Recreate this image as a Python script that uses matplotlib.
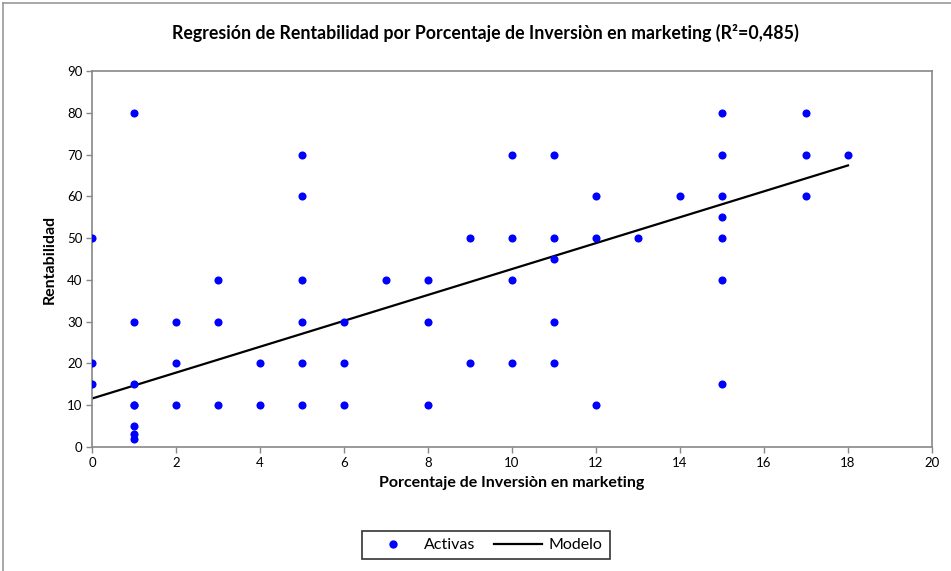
import numpy as np
import matplotlib
matplotlib.use('Agg')
from matplotlib import pyplot as plt
from matplotlib.lines import Line2D

plt.rcParams['font.family'] = ['Lato', 'DejaVu Sans']

# porcentaje de inversion en marketing y rentabilidad de cada empresa activa
inversion = [0, 0, 0,
             1, 1, 1, 1, 1, 1, 1, 1,
             2, 2, 2,
             3, 3, 3,
             4, 4,
             5, 5, 5, 5, 5, 5,
             6, 6, 6,
             7,
             8, 8, 8,
             9, 9,
             10, 10, 10, 10,
             11, 11, 11, 11, 11,
             12, 12, 12,
             13,
             14,
             15, 15, 15, 15, 15, 15, 15,
             17, 17, 17,
             18]
rentabilidad = [50, 20, 15,
                80, 30, 15, 10, 10, 5, 3, 2,
                30, 20, 10,
                40, 30, 10,
                20, 10,
                70, 60, 40, 30, 20, 10,
                30, 20, 10,
                40,
                40, 30, 10,
                50, 20,
                70, 50, 40, 20,
                70, 50, 45, 30, 20,
                60, 50, 10,
                50,
                60,
                80, 70, 60, 55, 50, 40, 15,
                80, 70, 60,
                70]

# recta del modelo
intercepto = 11.6
pendiente = 3.1
r2 = '0,485'

fig = plt.figure(figsize=(9.51, 5.71), dpi=100)
ax = fig.add_axes([92 / 951, 1 - 447 / 571, 840 / 951, 376 / 571])

ax.scatter(inversion, rentabilidad, s=34, color='#0000FF', zorder=3, linewidths=0)
xs = np.array([min(inversion), max(inversion)])
ax.plot(xs, intercepto + pendiente * xs, color='black', lw=1.6, zorder=2)

ax.set_xlim(0, 20)
ax.set_ylim(0, 90)
ax.set_xticks(range(0, 21, 2))
ax.set_yticks(range(0, 91, 10))
ax.tick_params(labelsize=9.5, color='#888888', length=4, width=1, pad=3)
for s in ax.spines.values():
    s.set_color('#888888')
    s.set_linewidth(1.2)

ax.set_xlabel('Porcentaje de Inversiòn en marketing', fontsize=11.5, fontweight='bold', labelpad=5)
ax.set_ylabel('Rentabilidad', fontsize=11.5, fontweight='bold', labelpad=7)
fig.text(485 / 951, 1 - 33 / 571,
         'Regresión de Rentabilidad por Porcentaje de Inversiòn en marketing (R²=' + r2 + ')',
         ha='center', va='center', fontsize=12.8, fontweight='bold')

handles = [Line2D([], [], marker='o', ls='none', color='#0000FF', markersize=6, markeredgewidth=0),
           Line2D([], [], color='black', lw=1.6)]
leg = fig.legend(handles, ['Activas', 'Modelo'], loc='center', ncol=2,
                 bbox_to_anchor=(486 / 951, 1 - 545 / 571), fontsize=11.5,
                 frameon=True, fancybox=False, edgecolor='black', handlelength=3.0,
                 columnspacing=1.2, handletextpad=0.4, borderpad=0.45)
leg.get_frame().set_linewidth(1.2)

# marco exterior del grafico
fig.add_artist(plt.Line2D([3 / 951, 3 / 951], [0, 1 - 3 / 571], transform=fig.transFigure,
                          color='#999999', lw=1.2))
fig.add_artist(plt.Line2D([3 / 951, 1], [1 - 3 / 571, 1 - 3 / 571], transform=fig.transFigure,
                          color='#999999', lw=1.2))

fig.savefig('out.png', dpi=100)
